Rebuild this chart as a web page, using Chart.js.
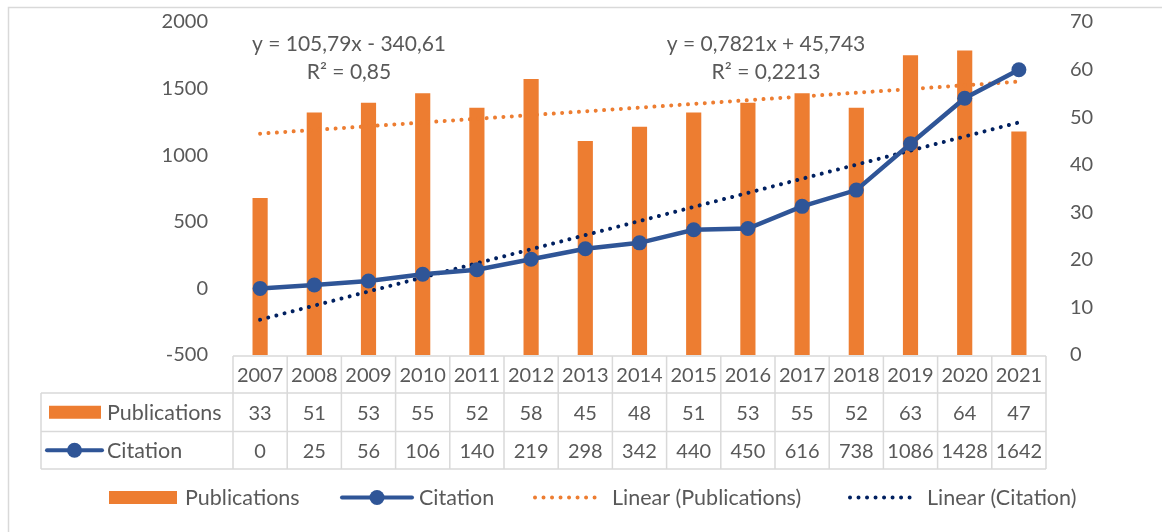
<!DOCTYPE html>
<html><head><meta charset="utf-8">
<script src="https://cdn.jsdelivr.net/npm/chart.js@4.4.0/dist/chart.umd.min.js"></script>
<style>html,body{margin:0;padding:0;background:#fff;}canvas{display:block;}</style>
</head><body>
<canvas id="c" width="1162" height="532"></canvas>
<script>
// ---- data ----
const years = ['2007','2008','2009','2010','2011','2012','2013','2014','2015','2016','2017','2018','2019','2020','2021'];
const publications = [33,51,53,55,52,58,45,48,51,53,55,52,63,64,47];
const citations = [0,25,56,106,140,219,298,342,440,450,616,738,1086,1428,1642];
// trend line values at first and last year (from the equations shown in the chart)
const pubTrendEnds = [46.525, 57.4745];
const citeTrendEnds = [-234.82, 1246.24];
const citeTrendLabel = ['y = 105,79x - 340,61', 'R² = 0,85'];
const pubTrendLabel = ['y = 0,7821x + 45,743', 'R² = 0,2213'];
const leftTicks = [-500, 0, 500, 1000, 1500, 2000];
const rightTicks = [0, 10, 20, 30, 40, 50, 60, 70];
const seriesNames = ['Publications', 'Citation', 'Linear (Publications)', 'Linear (Citation)'];

const endsToSeries = ends => years.map((_, i) => i === 0 ? ends[0] : (i === years.length - 1 ? ends[1] : null));

const FONT = 'Lato, "Liberation Sans", sans-serif';
const TXT = '#595959';
const GRID = '#D9D9D9';
const ORANGE = '#ED7D31';
const BLUE = '#2F5597';
const NAVY = '#002060';

function dotted(ctx, x1, x2, y, color) {
  ctx.save();
  ctx.strokeStyle = color; ctx.lineWidth = 4; ctx.lineCap = 'round';
  ctx.setLineDash([0.01, 8.5]);
  ctx.beginPath(); ctx.moveTo(x1, y); ctx.lineTo(x2, y); ctx.stroke();
  ctx.restore();
}
function lineKey(ctx, x1, x2, y, color) {
  ctx.save();
  ctx.strokeStyle = color; ctx.lineWidth = 4; ctx.lineCap = 'round';
  ctx.beginPath(); ctx.moveTo(x1, y); ctx.lineTo(x2, y); ctx.stroke();
  ctx.fillStyle = color;
  ctx.beginPath(); ctx.arc((x1 + x2) / 2, y, 7.5, 0, Math.PI * 2); ctx.fill();
  ctx.restore();
}

const extras = {
  id: 'extras',
  beforeDraw(chart) {
    const ctx = chart.ctx;
    ctx.save();
    ctx.fillStyle = '#fff'; ctx.fillRect(0, 0, chart.width, chart.height);
    ctx.strokeStyle = GRID; ctx.lineWidth = 1.5;
    ctx.strokeRect(8.5, 7.5, 1300, 700);
    ctx.restore();
  },
  afterDraw(chart) {
    const {ctx, chartArea: a} = chart;
    const ds = chart.data.datasets;
    const n = years.length;
    const cw = (a.right - a.left) / n;
    const r0 = a.bottom + 1, r1 = a.bottom + 38, r2 = a.bottom + 76.5, r3 = a.bottom + 114;
    const keyLeft = 41;
    ctx.save();
    ctx.strokeStyle = GRID; ctx.lineWidth = 1.5;
    ctx.beginPath();
    ctx.moveTo(a.left, r0); ctx.lineTo(a.right, r0);
    [r1, r2, r3].forEach(y => { ctx.moveTo(keyLeft, y); ctx.lineTo(a.right, y); });
    for (let i = 0; i <= n; i++) {
      const x = a.left + i * cw;
      ctx.moveTo(x, r0); ctx.lineTo(x, r3);
    }
    ctx.moveTo(keyLeft, r1); ctx.lineTo(keyLeft, r3);
    ctx.stroke();

    ctx.fillStyle = TXT; ctx.font = '20px ' + FONT;
    ctx.textAlign = 'center'; ctx.textBaseline = 'middle';
    const xs = chart.scales.x;
    years.forEach((yr, i) => {
      const cx = xs.getPixelForValue(i);
      ctx.fillText(yr, cx, (r0 + r1) / 2 + 1);
      ctx.fillText(String(publications[i]), cx, (r1 + r2) / 2 + 1);
      ctx.fillText(String(citations[i]), cx, (r2 + r3) / 2 + 1);
    });

    // row keys
    ctx.fillStyle = ds[0].backgroundColor;
    ctx.fillRect(49, (r1 + r2) / 2 - 6.5, 52, 13);
    lineKey(ctx, 47, 102, (r2 + r3) / 2, ds[1].borderColor);
    ctx.fillStyle = TXT; ctx.textAlign = 'left'; ctx.font = '21.5px ' + FONT;
    ctx.fillText(ds[0].label, 107, (r1 + r2) / 2 + 1);
    ctx.fillText(ds[1].label, 107, (r2 + r3) / 2 + 1);

    // legend
    const ly = 497.5;
    ctx.fillStyle = ds[0].backgroundColor;
    ctx.fillRect(109, ly - 6.5, 68, 13);
    lineKey(ctx, 342, 412, ly, ds[1].borderColor);
    dotted(ctx, 535, 603, ly, ds[2].borderColor);
    dotted(ctx, 850, 918, ly, ds[3].borderColor);
    ctx.fillStyle = TXT; ctx.textAlign = 'left'; ctx.font = '21.5px ' + FONT;
    ctx.fillText(ds[0].label, 185, ly + 1);
    ctx.fillText(ds[1].label, 419, ly + 1);
    ctx.fillText(ds[2].label, 612, ly + 1);
    ctx.fillText(ds[3].label, 927, ly + 1);

    // trend equations
    ctx.textAlign = 'center'; ctx.font = '21px ' + FONT;
    ctx.fillText(citeTrendLabel[0], 349, 44);
    ctx.fillText(citeTrendLabel[1], 349, 72);
    ctx.fillText(pubTrendLabel[0], 766, 44);
    ctx.fillText(pubTrendLabel[1], 766, 72);
    ctx.restore();
  }
};

new Chart(document.getElementById('c'), {
  data: {
    labels: years,
    datasets: [
      { type: 'bar', label: seriesNames[0], data: publications, yAxisID: 'y1', backgroundColor: ORANGE,
        barPercentage: 0.28, categoryPercentage: 1, order: 4 },
      { type: 'line', label: seriesNames[1], data: citations, yAxisID: 'y', borderColor: BLUE, backgroundColor: BLUE,
        borderWidth: 4.5, pointRadius: 7.5, pointBackgroundColor: BLUE, pointBorderColor: BLUE, pointBorderWidth: 0,
        tension: 0, order: 0 },
      { type: 'line', label: seriesNames[2], data: endsToSeries(pubTrendEnds), yAxisID: 'y1', borderColor: ORANGE,
        borderWidth: 4, borderDash: [0.01, 8.4], borderCapStyle: 'round', pointRadius: 0, spanGaps: true, order: 2 },
      { type: 'line', label: seriesNames[3], data: endsToSeries(citeTrendEnds), yAxisID: 'y', borderColor: NAVY,
        borderWidth: 4, borderDash: [0.01, 8.4], borderCapStyle: 'round', pointRadius: 0, spanGaps: true, order: 1 }
    ]
  },
  options: {
    responsive: false,
    animation: false,
    layout: { padding: { top: 22, bottom: 177, left: 0, right: 0 } },
    plugins: { legend: { display: false }, tooltip: { enabled: false } },
    scales: {
      x: { type: 'category', display: false, offset: true, grid: { display: false } },
      y: {
        position: 'left', min: leftTicks[0], max: leftTicks[leftTicks.length - 1],
        ticks: { stepSize: leftTicks[1] - leftTicks[0], color: TXT, font: { family: FONT, size: 20 }, padding: 25,
                 callback: v => String(v) },
        grid: { display: false, drawTicks: false }, border: { display: false },
        afterFit(s) { s.width = 233; s.paddingTop = 0; s.paddingBottom = 0; }
      },
      y1: {
        position: 'right', min: rightTicks[0], max: rightTicks[rightTicks.length - 1],
        ticks: { stepSize: rightTicks[1] - rightTicks[0], color: TXT, font: { family: FONT, size: 20 }, padding: 24,
                 callback: v => String(v) },
        grid: { display: false, drawTicks: false }, border: { display: false },
        afterFit(s) { s.width = 116; s.paddingTop = 0; s.paddingBottom = 0; }
      }
    }
  },
  plugins: [extras]
});
</script>
</body></html>
